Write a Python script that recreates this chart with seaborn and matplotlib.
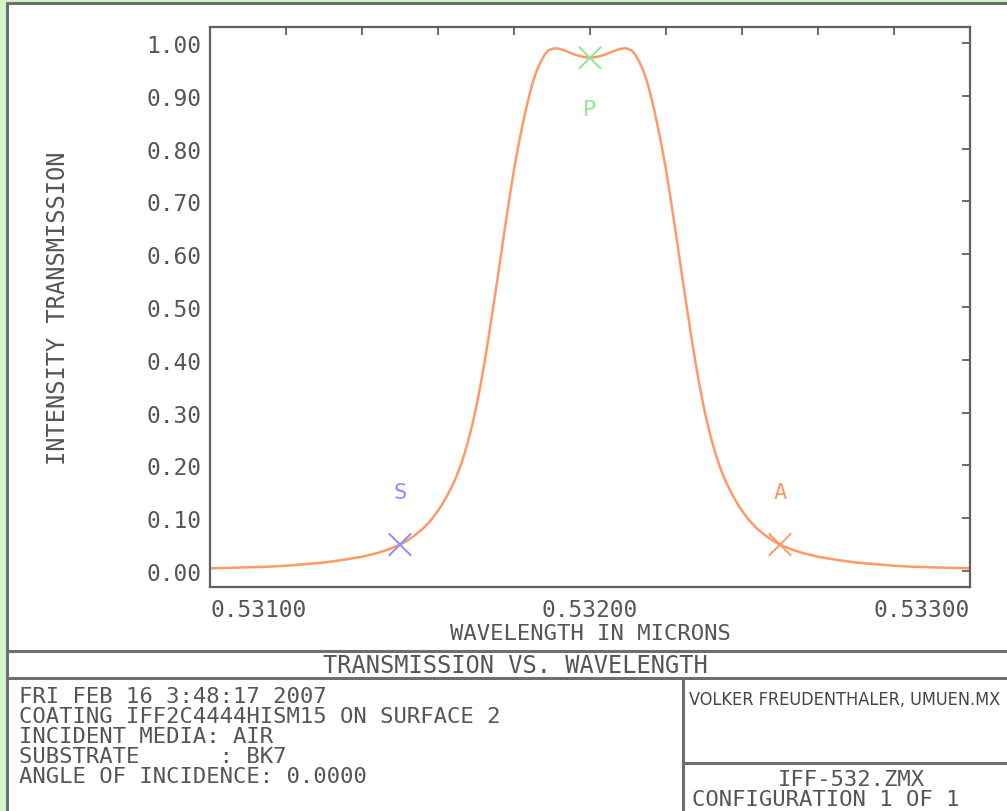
import pandas as pd
import seaborn as sns
import matplotlib.pyplot as plt
from matplotlib import font_manager
from matplotlib.lines import Line2D
from matplotlib.patches import Rectangle

# Transmission curve (offset from 0.532 um, in nm)
center_um = 0.532
offset_nm = [-1.00, -0.95, -0.90, -0.85, -0.80, -0.75, -0.70, -0.65, -0.60, -0.56,
             -0.53, -0.50, -0.48, -0.46, -0.44, -0.42, -0.405, -0.39, -0.375, -0.36,
             -0.35, -0.34, -0.33, -0.32, -0.31, -0.30, -0.29, -0.28, -0.27, -0.26,
             -0.25, -0.24, -0.23, -0.22, -0.21, -0.20, -0.19, -0.18, -0.17, -0.16,
             -0.15, -0.14, -0.13, -0.12, -0.11, -0.095, -0.08, -0.06, -0.04, -0.02,
             0.00,
             0.02, 0.04, 0.06, 0.08, 0.095, 0.11, 0.12, 0.13, 0.14, 0.15,
             0.16, 0.17, 0.18, 0.19, 0.20, 0.21, 0.22, 0.23, 0.24, 0.25,
             0.26, 0.27, 0.28, 0.29, 0.30, 0.31, 0.32, 0.33, 0.34, 0.35,
             0.36, 0.375, 0.39, 0.405, 0.42, 0.44, 0.46, 0.48, 0.50, 0.53,
             0.56, 0.60, 0.65, 0.70, 0.75, 0.80, 0.85, 0.90, 0.95, 1.00]
transmission = [0.005, 0.006, 0.007, 0.008, 0.010, 0.013, 0.016, 0.021, 0.027, 0.034,
                0.041, 0.050, 0.058, 0.068, 0.080, 0.095, 0.109, 0.125, 0.144, 0.165,
                0.182, 0.201, 0.223, 0.248, 0.276, 0.308, 0.345, 0.385, 0.428, 0.475,
                0.522, 0.570, 0.620, 0.668, 0.715, 0.760, 0.800, 0.836, 0.870, 0.900,
                0.927, 0.948, 0.964, 0.977, 0.986, 0.990, 0.989, 0.984, 0.978, 0.974,
                0.972,
                0.974, 0.978, 0.984, 0.989, 0.990, 0.986, 0.977, 0.964, 0.948, 0.927,
                0.900, 0.870, 0.836, 0.800, 0.760, 0.715, 0.668, 0.620, 0.570, 0.522,
                0.475, 0.428, 0.385, 0.345, 0.308, 0.276, 0.248, 0.223, 0.201, 0.182,
                0.165, 0.144, 0.125, 0.109, 0.095, 0.080, 0.068, 0.058, 0.050, 0.041,
                0.034, 0.027, 0.021, 0.016, 0.013, 0.010, 0.008, 0.007, 0.006, 0.005]

# Marked points
marker_names = ['S', 'P', 'A']
marker_wavelength = [0.5315, 0.5320, 0.5325]
marker_transmission = [0.050, 0.972, 0.050]
marker_label_y = [0.15, 0.875, 0.15]
marker_colors = ['#8c8cff', '#8ee88e', '#ff9966']

y_ticks = [0.0, 0.1, 0.2, 0.3, 0.4, 0.5, 0.6, 0.7, 0.8, 0.9, 1.0]
x_major = [0.531, 0.532, 0.533]
x_minor = [0.5312, 0.5314, 0.5316, 0.5318, 0.5322, 0.5324, 0.5326, 0.5328]
x_tick_labels = ['0.53100', '0.53200', '0.53300']

title = 'TRANSMISSION VS. WAVELENGTH'
info_lines = ['FRI FEB 16 3:48:17 2007',
              'COATING IFF2C4444HISM15 ON SURFACE 2',
              'INCIDENT MEDIA: AIR',
              'SUBSTRATE      : BK7',
              'ANGLE OF INCIDENCE: 0.0000']
author = 'VOLKER FREUDENTHALER, UMUEN.MX'
lens_file = 'IFF-532.ZMX'
config_text = 'CONFIGURATION 1 OF 1'

df = pd.DataFrame({'wavelength': [center_um + o / 1000 for o in offset_nm],
                   'transmission': transmission})
df_marks = pd.DataFrame({'name': marker_names, 'wavelength': marker_wavelength,
                         'transmission': marker_transmission})

sns.set_theme(style='white')
plt.rcParams['font.family'] = ['DejaVu Sans Mono']

W, H = 1007, 812
txt_col = '#555555'
line_col = '#6e6e6e'
fs = 16


def fx(x):
    return x / W


def fy(y):
    return 1 - y / H


fig = plt.figure(figsize=(W / 100, H / 100), dpi=100, facecolor='#d4f4cc')
fig.patches.append(Rectangle((fx(7), 0), 1, fy(4), transform=fig.transFigure,
                             facecolor='white', edgecolor='none', zorder=-5))

# frame lines
frame = [((7, 7), (4, H)), ((7, W), (4, 4)),
         ((7, W), (652, 652)), ((7, W), (679, 679)),
         ((683, 683), (679, H)), ((683, W), (764, 764))]
for xs, ys in frame:
    fig.add_artist(Line2D([fx(xs[0]), fx(xs[1])], [fy(ys[0]), fy(ys[1])],
                          transform=fig.transFigure, color=line_col, lw=2.2))

ax = fig.add_axes([fx(210), fy(588), (970 - 210) / W, (588 - 28) / H])
ax.set_facecolor('white')

sns.lineplot(data=df, x='wavelength', y='transmission', color='#ff9966',
             lw=1.8, ax=ax, errorbar=None)
sns.scatterplot(data=df_marks, x='wavelength', y='transmission', hue='name',
                palette=marker_colors, marker='x', s=260, linewidth=1.4,
                legend=False, ax=ax, zorder=3)
for name, wl, ly, c in zip(marker_names, marker_wavelength, marker_label_y, marker_colors):
    ax.text(wl, ly, name, color=c, ha='center', va='center', fontsize=16)

ax.set_xlim(0.531, 0.533)
ax.set_ylim(-0.0303, 1.0303)
ax.set_yticks(y_ticks)
ax.set_yticklabels([f'{v:.2f}' for v in y_ticks])
ax.set_xticks(x_major)
ax.set_xticks(x_minor, minor=True)
ax.set_xticklabels(x_tick_labels)
labels = ax.get_xticklabels()
labels[0].set_ha('left')
labels[-1].set_ha('right')

for s in ax.spines.values():
    s.set_color('#606060')
    s.set_linewidth(1.6)
ax.tick_params(which='both', direction='in', length=6, width=1.3,
               top=True, right=True, color='#606060')
ax.tick_params(axis='both', which='major', labelsize=16.5, labelcolor=txt_col)
ax.tick_params(axis='y', pad=6)
ax.tick_params(axis='x', pad=8)

ax.set_xlabel('WAVELENGTH IN MICRONS', fontsize=fs, color=txt_col, va='center')
ax.xaxis.set_label_coords(0.5, (588 - 634) / 560)
ax.set_ylabel('INTENSITY TRANSMISSION', fontsize=17, color=txt_col, va='center')
ax.yaxis.set_label_coords((58 - 210) / 760, 0.5)

# footer text
fig.text(fx(515), fy(666), title, ha='center', va='center', fontsize=17, color=txt_col)
for i, line in enumerate(info_lines):
    fig.text(fx(19), fy(697 + 20 * i), line, ha='left', va='center',
             fontsize=fs, color=txt_col)

names = {f.name for f in font_manager.fontManager.ttflist}
narrow = 'Liberation Sans Narrow' if 'Liberation Sans Narrow' in names else 'DejaVu Sans'
fig.text(fx(689), fy(700), author, ha='left', va='center', fontsize=13,
         color='#444444', family=narrow, fontstretch='condensed')
fig.text(fx(851), fy(780), lens_file, ha='center', va='center', fontsize=fs, color=txt_col)
fig.text(fx(692), fy(800), config_text, ha='left', va='center', fontsize=fs, color=txt_col)

fig.savefig('out.png', dpi=100, facecolor=fig.get_facecolor())
